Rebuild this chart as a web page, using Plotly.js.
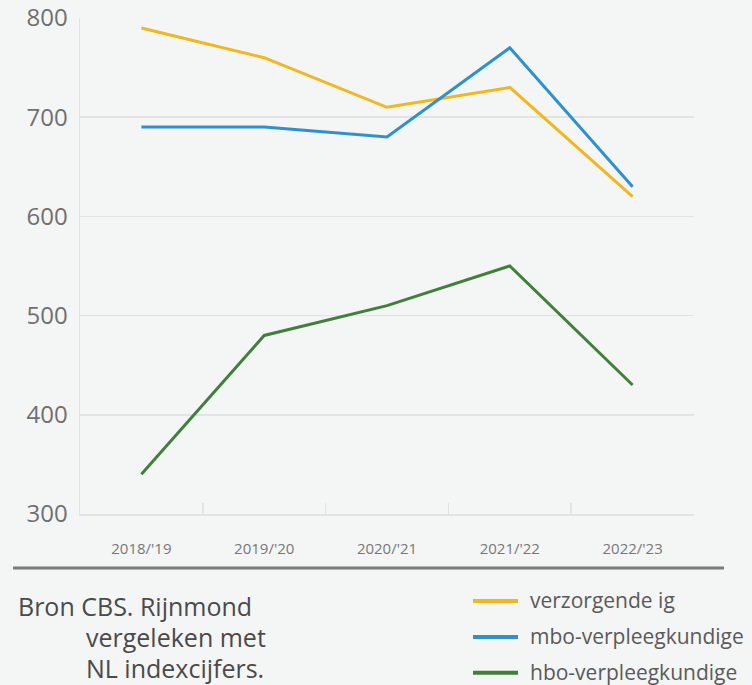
<!DOCTYPE html>
<html>
<head>
<meta charset="utf-8">
<script src="https://cdn.plot.ly/plotly-3.0.1.min.js"></script>
<style>
  html, body { margin: 0; padding: 0; background: #f4f5f5; }
  #chart { width: 752px; height: 685px; }
</style>
</head>
<body>
<div id="chart"></div>
<script>
// ---- data ----
const years = ["2018/'19", "2019/'20", "2020/'21", "2021/'22", "2022/'23"];
const seriesNames = ["verzorgende ig", "mbo-verpleegkundige", "hbo-verpleegkundige"];
const verzorgendeIG = [790, 760, 710, 730, 620];
const mboVerpleegkundige = [690, 690, 680, 770, 630];
const hboVerpleegkundige = [340, 480, 510, 550, 430];
const yTicks = [300, 400, 500, 600, 700, 800];
const sourceLines = ["Bron CBS. Rijnmond", "vergeleken met", "NL indexcijfers."];

// ---- style ----
const colors = ["#f3b61c", "#2b91d1", "#3f8139"];
const bg = "#f4f5f5";
const grid = "#e2e3e3";
const font = "Open Sans, sans-serif";

// plot area pixel geometry
const W = 752, H = 685;
const L = 80, R = 694, T = 17.5, B = 514;
const px = x => (x - L) / (R - L);
const py = y => (B - y) / (B - T);

const seriesValues = [verzorgendeIG, mboVerpleegkundige, hboVerpleegkundige];
const traces = seriesValues.map((vals, i) => ({
  type: 'scatter', mode: 'lines', x: years, y: vals, name: seriesNames[i],
  line: { color: colors[i], width: 3 }, showlegend: false, hoverinfo: 'x+y+name'
}));

const shapes = [
  // separator line under the axis labels
  { type: 'line', xref: 'paper', yref: 'paper', x0: px(13), x1: px(724), y0: py(568), y1: py(568),
    line: { color: '#7a7b7b', width: 3 } }
];
const annotations = [];
const legendY = [601, 637, 673];
seriesNames.forEach((n, i) => {
  shapes.push({ type: 'line', xref: 'paper', yref: 'paper', x0: px(473), x1: px(518),
    y0: py(legendY[i]), y1: py(legendY[i]), line: { color: colors[i], width: 4 } });
  annotations.push({ xref: 'paper', yref: 'paper', x: px(528), y: py(legendY[i] - 1), text: n,
    showarrow: false, xanchor: 'left', yanchor: 'middle',
    font: { family: font, size: 21, color: '#5a5a5a' } });
});
const srcX = [16, 84, 84];
const srcY = [606, 637, 668];
sourceLines.forEach((t, i) => {
  annotations.push({ xref: 'paper', yref: 'paper', x: px(srcX[i]), y: py(srcY[i]), text: t,
    showarrow: false, xanchor: 'left', yanchor: 'middle',
    font: { family: font, size: 25, color: '#4a4a4a' } });
});

const layout = {
  width: W, height: H,
  margin: { l: L, r: W - R, t: T, b: H - B, pad: 0 },
  paper_bgcolor: bg, plot_bgcolor: bg,
  showlegend: false,
  xaxis: {
    type: 'category', range: [-0.5, 4.5], tickson: 'boundaries',
    ticks: 'inside', ticklen: 11, tickcolor: grid, tickwidth: 1.5,
    showgrid: false, zeroline: false, showline: true, linecolor: grid, linewidth: 1.5,
    ticklabelstandoff: 20,
    tickfont: { family: font, size: 15, color: '#787878' }, fixedrange: true
  },
  yaxis: {
    range: [300, 800], tickvals: yTicks, ticktext: yTicks.map(String),
    showgrid: true, gridcolor: grid, gridwidth: 1.5, zeroline: false,
    showline: true, linecolor: grid, linewidth: 1.5, ticks: '',
    ticklabelstandoff: 6,
    tickfont: { family: font, size: 24, color: '#707070' }, fixedrange: true
  },
  shapes: shapes,
  annotations: annotations
};

Plotly.newPlot('chart', traces, layout, { displayModeBar: false, staticPlot: true });
</script>
</body>
</html>
